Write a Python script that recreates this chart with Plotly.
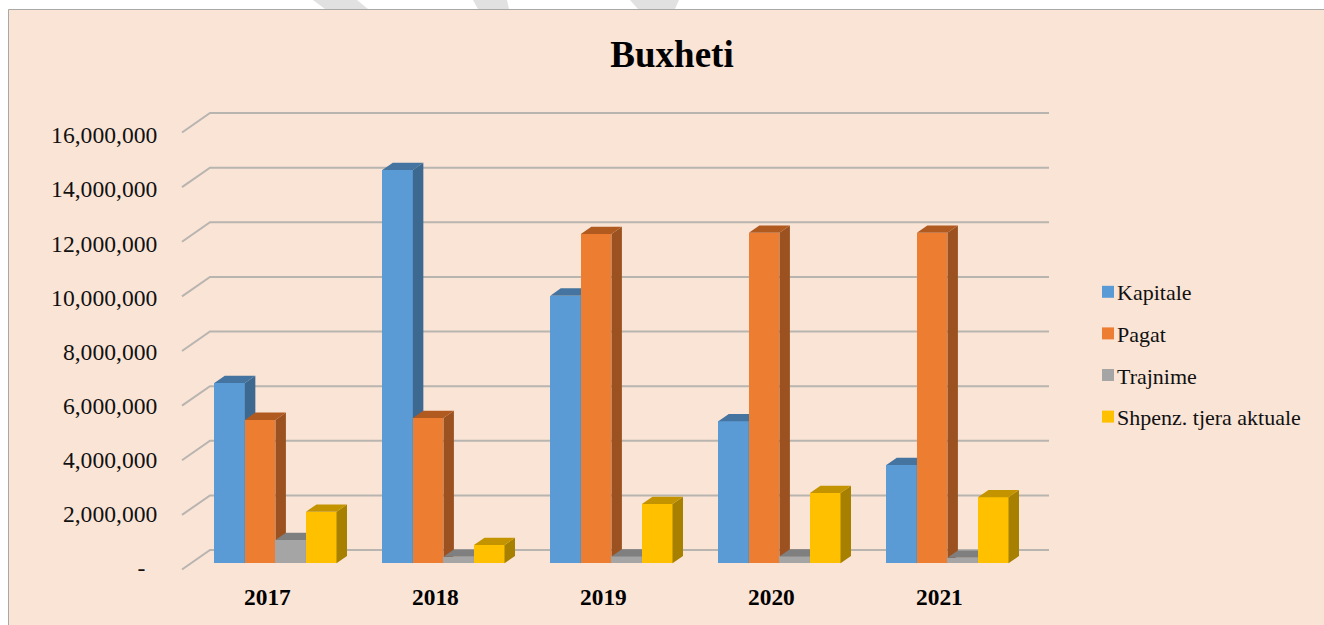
import plotly.graph_objects as go

# ---------- data ----------
years = ["2017", "2018", "2019", "2020", "2021"]
series_names = ["Kapitale", "Pagat", "Trajnime", "Shpenz. tjera aktuale"]
kapitale = [6600000, 14400000, 9800000, 5200000, 3600000]
pagat = [5250000, 5320000, 12060000, 12100000, 12100000]
trajnime = [850000, 240000, 250000, 250000, 200000]
shpenzime = [1890000, 670000, 2170000, 2570000, 2420000]
grid_values = [0, 2000000, 4000000, 6000000, 8000000, 10000000, 12000000, 14000000, 16000000]
tick_labels = ["-\u00a0\u00a0", "2,000,000", "4,000,000", "6,000,000", "8,000,000",
               "10,000,000", "12,000,000", "14,000,000", "16,000,000"]

# ---------- style / layout constants ----------
W, H = 1324, 625
FONT = "Liberation Serif"
PLOT_L, PLOT_R, PLOT_T, PLOT_B = 175, 1060, 100, 575
WALL_L_PX, WALL_R_PX = 210, 1049
CAT0_PX, CAT_STEP_PX = 275.4, 168.0
BAR_PX = 30.55
DEPTH_X_PX, DEPTH_Y_PX = 10.5, 7.3
PX_PER_UNIT = 27.31 / 1e6
BAR_ZERO_PX = 563.3
WALL_ZERO_PX = 550.0
LABEL_ZERO_PX, LABEL_PX_PER_UNIT = 568.0, 27.06 / 1e6
FLOOR_X_PX, FLOOR_Y_PX = 28.0, 19.5
GRID_COLOR = "#B8B4B0"
faces = [
    ("#5B9BD5", "#44749F", "#3D6890"),
    ("#ED7D31", "#B05A20", "#9C5220"),
    ("#A5A5A5", "#7F7F7F", "#6E6E6E"),
    ("#FFC000", "#C49400", "#A88000"),
]
values = [kapitale, pagat, trajnime, shpenzime]


def y_range(zero_px, scale):
    return [(zero_px - PLOT_B) / scale, (zero_px - PLOT_T) / scale]


def x_at(px):
    return (px - CAT0_PX) / CAT_STEP_PX


x_range = [x_at(PLOT_L), x_at(PLOT_R)]
bar_w = BAR_PX / CAT_STEP_PX
dx = DEPTH_X_PX / CAT_STEP_PX
dy = DEPTH_Y_PX / PX_PER_UNIT
positions = list(range(len(years)))

fig = go.Figure()

# anchor trace for the tick-label axis
fig.add_trace(go.Scatter(x=[positions[0]] * len(grid_values), y=grid_values, mode="none",
                         showlegend=False, hoverinfo="skip", xaxis="x", yaxis="y"))

# gridlines: floor diagonal, then along the back wall
fy = FLOOR_Y_PX / PX_PER_UNIT
gx, gy = [], []
for g in grid_values:
    gx += [x_at(WALL_L_PX - FLOOR_X_PX), x_at(WALL_L_PX), x_at(WALL_R_PX), None]
    gy += [g - fy, g, g, None]
fig.add_trace(go.Scatter(x=gx, y=gy, mode="lines",
                         line=dict(color=GRID_COLOR, width=2), showlegend=False,
                         hoverinfo="skip", xaxis="x", yaxis="y2"))

# bars: one overlaid axis per series, so each series paints over the last
for k, (name, vals, (front, top, side)) in enumerate(zip(series_names, values, faces)):
    ya = f"y{k + 3}"
    xs = [p + (k - 1.5) * bar_w for p in positions]
    fig.add_trace(go.Bar(x=xs, y=vals, width=bar_w, name=name, legendgroup=name,
                         marker=dict(color=front, line=dict(width=0)),
                         xaxis="x", yaxis=ya))
    sx, sy, tx, ty = [], [], [], []
    for x, v in zip(xs, vals):
        l, r = x - bar_w / 2, x + bar_w / 2
        sx += [r, r + dx, r + dx, r, r, None]
        sy += [0, dy, v + dy, v, 0, None]
        tx += [l, l + dx, r + dx, r, l, None]
        ty += [v, v + dy, v + dy, v, v, None]
    fig.add_trace(go.Scatter(x=sx, y=sy, mode="lines", fill="toself", fillcolor=side,
                             line=dict(width=0, color=side), showlegend=False,
                             hoverinfo="skip", xaxis="x", yaxis=ya))
    fig.add_trace(go.Scatter(x=tx, y=ty, mode="lines", fill="toself", fillcolor=top,
                             line=dict(width=0, color=top), showlegend=False,
                             hoverinfo="skip", xaxis="x", yaxis=ya))

shared_hidden = dict(overlaying="y", visible=False, range=y_range(BAR_ZERO_PX, PX_PER_UNIT))
layout_axes = {f"yaxis{k + 3}": shared_hidden for k in range(len(series_names))}


def paper_x(px):
    return (px - PLOT_L) / (PLOT_R - PLOT_L)


def paper_y(px):
    return (PLOT_B - px) / (PLOT_B - PLOT_T)


def wedge(pts):
    d = "M " + " L ".join(f"{paper_x(a):.5f},{paper_y(b):.5f}" for a, b in pts) + " Z"
    return dict(type="path", path=d, xref="paper", yref="paper", layer="below",
                fillcolor="#E1E1E1", line=dict(width=0))


shapes = [
    wedge([(313, 0), (357, 0), (368, 9), (325, 9)]),
    wedge([(473, 0), (507, 0), (509, 9), (478, 9)]),
    wedge([(630, 0), (679, 0), (675, 9), (638, 9)]),
    dict(type="rect", xref="paper", yref="paper", layer="below",
         x0=paper_x(8.5), x1=paper_x(1340), y0=paper_y(640), y1=paper_y(9.5),
         fillcolor="#FAE4D6", line=dict(color="#A8A8A8", width=1)),
]

fig.update_layout(
    width=W, height=H, autosize=False,
    margin=dict(l=PLOT_L, r=W - PLOT_R, t=PLOT_T, b=H - PLOT_B, pad=0),
    paper_bgcolor="white", plot_bgcolor="rgba(0,0,0,0)",
    font=dict(family=FONT, color="#111111"),
    title=dict(text="<b>Buxheti</b>", font=dict(family=FONT, size=37, color="black"),
               x=672 / W, xanchor="center", y=1 - 54 / H, yanchor="middle"),
    barmode="overlay", bargap=0,
    showlegend=True,
    legend=dict(x=paper_x(1088), xanchor="left", y=paper_y(271), yanchor="top",
                bgcolor="rgba(0,0,0,0)", traceorder="grouped", tracegroupgap=10,
                indentation=-11,
                font=dict(family=FONT, size=22, color="#111111")),
    xaxis=dict(range=x_range, tickmode="array",
               tickvals=[p - 8 / CAT_STEP_PX for p in positions], ticktext=years,
               tickfont=dict(family=FONT, size=23.4, color="black", weight="bold"),
               ticks="outside", ticklen=1, tickcolor="rgba(0,0,0,0)",
               showgrid=False, zeroline=False, showline=False),
    yaxis=dict(range=y_range(LABEL_ZERO_PX, LABEL_PX_PER_UNIT), tickmode="array",
               tickvals=grid_values, ticktext=tick_labels,
               tickfont=dict(family=FONT, size=23.6, color="#111111"),
               ticks="outside", ticklen=12, tickcolor="rgba(0,0,0,0)",
               showgrid=False, zeroline=False, showline=False),
    yaxis2=dict(overlaying="y", visible=False, range=y_range(WALL_ZERO_PX, PX_PER_UNIT)),
    shapes=shapes,
    **layout_axes,
)

fig.write_html(
    "out.html",
    post_script=(
        "document.body.style.margin='0';"
        "document.querySelectorAll('.legend g.legendpoints').forEach("
        "function(el){el.setAttribute('transform','translate(11,0)');});"
    ),
    config=dict(displayModeBar=False),
)
